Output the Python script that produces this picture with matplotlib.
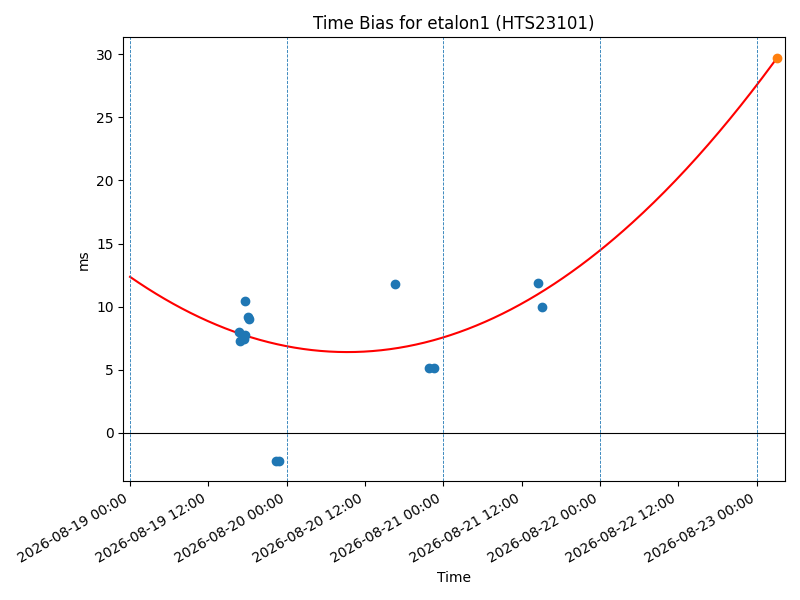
import numpy as np
import pandas as pd
import matplotlib
matplotlib.use('Agg')
import matplotlib.pyplot as plt
import matplotlib.dates as mdates

# measured time bias samples
times = pd.to_datetime([
    '2026-08-19 17:38', '2026-08-19 18:08', '2026-08-19 18:14',
    '2026-08-19 16:45', '2026-08-19 17:40', '2026-08-19 16:50', '2026-08-19 17:30',
    '2026-08-19 22:22', '2026-08-19 22:50',
    '2026-08-20 16:37',
    '2026-08-20 21:49', '2026-08-20 22:35',
    '2026-08-21 14:31', '2026-08-21 15:09',
])
bias_ms = [10.47, 9.16, 8.98,
           7.95, 7.75, 7.25, 7.40,
           -2.26, -2.26,
           11.80,
           5.12, 5.12,
           11.89, 10.00]

# predicted point
pred_time = pd.Timestamp('2026-08-23 03:10')
pred_ms = 29.7

# quadratic fit, coefficients in days since epoch
t_ref = pd.Timestamp('2026-08-19 00:00')
fit_coeffs = [3.1, -8.6, 12.36]

day_lines = pd.date_range('2026-08-19', '2026-08-23', freq='D')

fig, ax = plt.subplots(figsize=(8, 6), dpi=100)

ax.scatter(times, bias_ms, color='C0', zorder=3)
ax.scatter([pred_time], [pred_ms], color='C1', zorder=3)

days_span = (pred_time - t_ref) / pd.Timedelta(days=1)
tt = np.linspace(0, days_span, 300)
ax.plot(t_ref + pd.to_timedelta(tt, unit='D'), np.polyval(fit_coeffs, tt),
        color='red', linewidth=1.5)

ax.axhline(0, color='black', linewidth=0.8)
for d in day_lines:
    ax.axvline(d, color='C0', linestyle='--', linewidth=0.6)

ax.set_xlim(t_ref - pd.Timedelta(days=0.043), t_ref + pd.Timedelta(days=4.181))
ax.xaxis.set_major_locator(mdates.HourLocator(byhour=[0, 12]))
ax.xaxis.set_major_formatter(mdates.DateFormatter('%Y-%m-%d %H:%M'))

ax.set_title('Time Bias for etalon1 (HTS23101)')
ax.set_xlabel('Time')
ax.set_ylabel('ms')
fig.autofmt_xdate()
fig.tight_layout()
fig.savefig('out.png', dpi=100)
